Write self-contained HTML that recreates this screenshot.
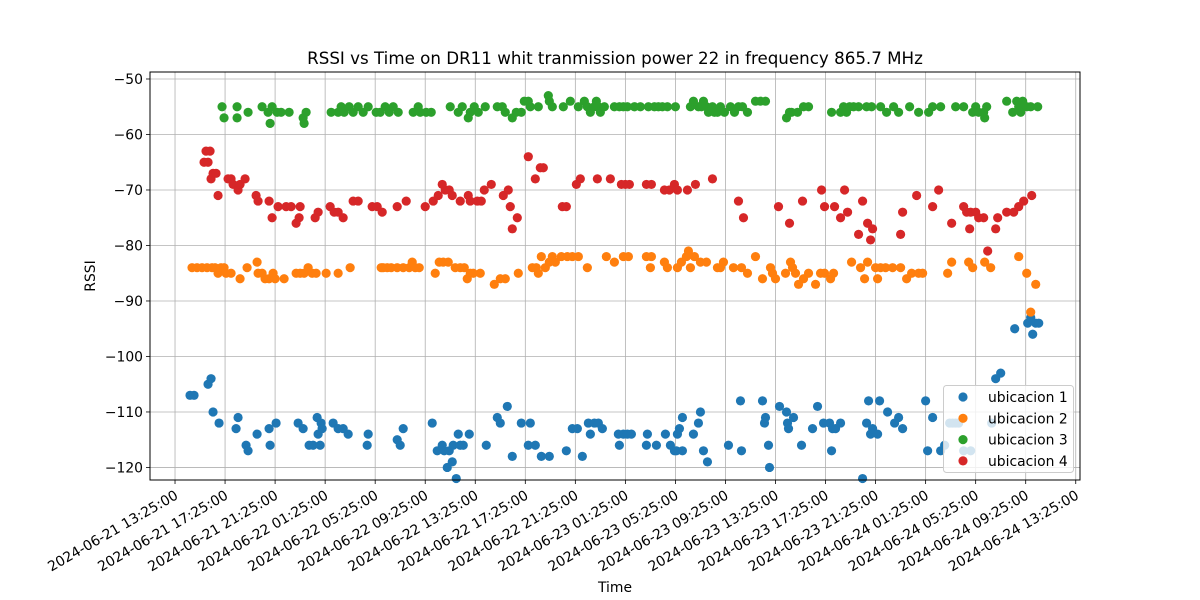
<!DOCTYPE html>
<html><head><meta charset="utf-8"><style>
body{margin:0;background:#fff;}
svg{display:block;font-family:"DejaVu Sans","Liberation Sans",sans-serif;}
</style></head><body>
<svg id="chart" width="1200" height="600" viewBox="0 0 1200 600"></svg>
<script>
const xTicks=[0,4,8,12,16,20,24,28,32,36,40,44,48,52,56,60,64,68,72];
const xTickLabels=["2024-06-21 13:25:00","2024-06-21 17:25:00","2024-06-21 21:25:00","2024-06-22 01:25:00","2024-06-22 05:25:00","2024-06-22 09:25:00","2024-06-22 13:25:00","2024-06-22 17:25:00","2024-06-22 21:25:00","2024-06-23 01:25:00","2024-06-23 05:25:00","2024-06-23 09:25:00","2024-06-23 13:25:00","2024-06-23 17:25:00","2024-06-23 21:25:00","2024-06-24 01:25:00","2024-06-24 05:25:00","2024-06-24 09:25:00","2024-06-24 13:25:00"];
const yTicks=[-120,-110,-100,-90,-80,-70,-60,-50];
const seriesNames=["ubicacion 1","ubicacion 2","ubicacion 3","ubicacion 4"];
const seriesColors=["#1f77b4","#ff7f0e","#2ca02c","#d62728"];
const s1=[[1.2,-107],[1.52,-107],[2.64,-105],[2.88,-104],[3.04,-110],[3.52,-112],[4.88,-113],[5.04,-111],[5.68,-116],[5.84,-117],[6.56,-114],[7.52,-113],[7.6,-116],[8.08,-112],[9.84,-112],[10.24,-113],[10.72,-116],[11.04,-116],[11.36,-111],[11.44,-114],[11.6,-116],[11.68,-112],[11.76,-113],[12.64,-112],[13.04,-113],[13.44,-113],[13.84,-114],[15.36,-116],[15.44,-114],[17.76,-115],[18.0,-116],[18.24,-113],[20.56,-112],[20.96,-117],[21.36,-116],[21.52,-117],[21.76,-120],[21.92,-117],[22.16,-119],[22.24,-116],[22.48,-122],[22.64,-114],[22.8,-116],[23.04,-116],[23.52,-114],[24.88,-116],[25.76,-111],[26.0,-112],[26.56,-109],[26.96,-118],[27.68,-112],[28.4,-112],[28.24,-116],[28.8,-116],[29.28,-118],[29.92,-118],[31.28,-117],[31.76,-113],[32.16,-113],[32.56,-118],[33.04,-112],[33.2,-114],[33.52,-112],[33.84,-112],[34.16,-113],[35.44,-114],[35.52,-116],[35.84,-114],[36.16,-114],[36.48,-114],[37.68,-116],[37.76,-114],[38.48,-116],[39.2,-114],[39.6,-116],[39.92,-117],[40.08,-117],[40.16,-114],[40.32,-113],[40.56,-111],[40.56,-117],[41.44,-114],[41.84,-112],[42.0,-110],[42.24,-117],[42.56,-119],[44.24,-116],[45.2,-108],[45.28,-117],[46.96,-108],[47.12,-112],[47.2,-111],[47.44,-116],[47.52,-120],[48.32,-109],[48.88,-110],[48.96,-112],[49.04,-113],[49.44,-111],[50.08,-116],[50.96,-113],[51.36,-109],[51.84,-112],[52.32,-112],[52.48,-117],[52.56,-113],[52.8,-113],[53.2,-112],[54.96,-122],[55.28,-112],[55.44,-108],[55.6,-114],[55.76,-113],[56.16,-114],[56.32,-108],[56.96,-110],[57.52,-112],[57.84,-111],[58.16,-113],[60.0,-108],[60.16,-117],[60.56,-111],[61.2,-117],[61.52,-116],[61.92,-112],[62.16,-112],[62.4,-112],[62.64,-112],[63.04,-117],[63.6,-117],[65.28,-112],[65.6,-104],[66.0,-103],[67.12,-95],[68.16,-94],[68.4,-93],[68.56,-96],[68.8,-94],[69.04,-94]];
const s2=[[1.36,-84],[1.76,-84],[2.16,-84],[2.56,-84],[2.96,-84],[3.2,-84],[3.44,-85],[3.68,-84],[3.92,-84],[4.08,-85],[4.48,-85],[5.2,-86],[5.76,-84],[6.56,-83],[6.64,-85],[6.96,-85],[7.2,-86],[7.52,-86],[7.84,-85],[8.0,-86],[8.72,-86],[9.68,-85],[10.0,-85],[10.32,-85],[10.64,-84],[10.96,-85],[11.28,-85],[12.08,-85],[13.04,-85],[14.0,-84],[16.48,-84],[16.64,-84],[16.96,-84],[17.28,-84],[17.76,-84],[18.24,-84],[18.72,-84],[18.96,-83],[19.2,-84],[19.52,-84],[20.8,-85],[21.12,-83],[21.44,-83],[21.84,-83],[22.4,-84],[22.8,-84],[23.12,-84],[23.36,-86],[23.6,-85],[23.84,-85],[24.4,-85],[25.52,-87],[26.0,-86],[26.4,-86],[27.44,-85],[28.56,-84],[28.88,-84],[29.04,-85],[29.28,-82],[29.6,-84],[29.92,-83],[30.16,-82],[30.4,-83],[30.88,-82],[31.36,-82],[31.76,-82],[32.24,-82],[32.96,-84],[34.48,-82],[35.12,-83],[35.84,-82],[36.24,-82],[37.68,-82],[38.0,-84],[38.08,-82],[39.12,-83],[39.36,-84],[40.16,-84],[40.48,-83],[40.88,-82],[41.04,-81],[41.2,-84],[41.52,-82],[42.0,-83],[42.48,-83],[43.36,-84],[43.6,-84],[43.84,-83],[44.64,-84],[45.28,-84],[45.76,-85],[46.4,-82],[46.96,-86],[47.6,-84],[47.76,-85],[48.0,-86],[48.8,-85],[49.2,-83],[49.36,-84],[49.6,-85],[49.84,-87],[50.24,-86],[50.64,-85],[51.2,-87],[51.6,-85],[51.92,-85],[52.4,-86],[52.64,-85],[54.08,-83],[54.8,-84],[55.12,-86],[55.36,-83],[56.0,-84],[56.16,-86],[56.4,-84],[56.8,-84],[57.36,-84],[58.0,-84],[58.48,-86],[58.88,-85],[59.44,-85],[59.76,-85],[61.76,-85],[62.08,-83],[63.44,-83],[63.76,-84],[64.72,-83],[65.2,-84],[67.44,-82],[68.08,-85],[68.4,-92],[68.8,-87]];
const s3=[[3.76,-55],[3.92,-57],[4.96,-55],[4.96,-57],[5.84,-56],[6.96,-55],[7.44,-56],[7.6,-58],[7.76,-55],[8.16,-56],[8.48,-56],[9.12,-56],[10.24,-57],[10.32,-58],[10.48,-56],[12.48,-56],[13.04,-56],[13.28,-55],[13.52,-56],[13.92,-55],[14.24,-56],[14.64,-55],[15.04,-56],[15.44,-55],[16.08,-56],[16.4,-56],[16.8,-55],[17.12,-56],[17.44,-55],[17.84,-56],[19.04,-56],[19.44,-55],[19.6,-56],[20.08,-56],[20.48,-56],[22.0,-55],[22.64,-56],[22.96,-55],[23.44,-57],[23.6,-56],[23.92,-55],[24.24,-56],[24.8,-55],[25.76,-55],[26.16,-55],[26.4,-56],[26.96,-57],[27.28,-56],[27.68,-56],[27.92,-54],[28.24,-54],[28.4,-55],[29.04,-55],[29.84,-53],[29.92,-54],[30.16,-55],[31.04,-55],[31.6,-54],[32.24,-55],[32.72,-54],[32.96,-55],[33.2,-56],[33.52,-55],[33.68,-54],[33.84,-55],[34.0,-56],[34.32,-55],[35.12,-55],[35.52,-55],[35.84,-55],[36.16,-55],[36.72,-55],[37.2,-55],[37.84,-55],[38.32,-55],[38.64,-55],[38.96,-55],[39.36,-55],[40.0,-55],[41.2,-55],[41.44,-54],[41.84,-55],[42.08,-55],[42.24,-54],[42.48,-55],[42.64,-56],[42.96,-55],[43.12,-56],[43.36,-56],[43.6,-55],[43.92,-56],[44.4,-55],[44.72,-56],[45.04,-55],[45.36,-55],[45.76,-56],[46.4,-54],[46.8,-54],[47.2,-54],[48.88,-57],[49.12,-56],[49.28,-56],[49.76,-56],[50.24,-55],[50.64,-55],[52.48,-56],[53.2,-56],[53.44,-55],[53.68,-56],[53.92,-55],[54.24,-55],[54.64,-55],[55.28,-55],[55.68,-55],[56.4,-55],[56.88,-56],[57.44,-55],[57.84,-56],[58.72,-55],[59.44,-56],[60.24,-56],[60.56,-55],[61.2,-55],[62.4,-55],[63.04,-55],[63.76,-56],[64.0,-55],[64.24,-56],[64.64,-56],[64.72,-57],[64.88,-55],[66.48,-54],[66.96,-56],[67.28,-54],[67.44,-55],[67.6,-56],[67.76,-54],[68.08,-55],[68.4,-55],[68.96,-55]];
const s4=[[2.32,-65],[2.48,-63],[2.64,-65],[2.8,-63],[2.88,-68],[3.04,-67],[3.28,-67],[3.44,-71],[4.24,-68],[4.48,-68],[4.64,-69],[5.04,-70],[5.2,-69],[5.6,-68],[6.48,-71],[6.64,-72],[7.52,-72],[7.76,-75],[8.24,-73],[8.88,-73],[9.28,-73],[9.68,-76],[9.92,-75],[10.0,-73],[11.2,-75],[11.44,-74],[12.4,-73],[12.72,-74],[13.04,-74],[13.44,-75],[14.24,-72],[14.64,-72],[15.76,-73],[16.16,-73],[16.56,-74],[17.76,-73],[18.48,-72],[20.0,-73],[20.64,-72],[21.04,-71],[21.36,-69],[21.6,-70],[21.92,-70],[22.16,-71],[22.8,-72],[23.44,-71],[23.6,-72],[24.16,-72],[24.48,-72],[24.72,-70],[25.28,-69],[26.24,-71],[26.64,-70],[26.8,-73],[26.96,-77],[27.36,-75],[28.24,-64],[28.8,-68],[29.2,-66],[29.44,-66],[30.96,-73],[31.28,-73],[32.08,-69],[32.4,-68],[33.76,-68],[34.8,-68],[35.68,-69],[36.0,-69],[36.32,-69],[37.68,-69],[38.08,-69],[39.12,-70],[39.52,-70],[39.92,-69],[40.16,-70],[40.96,-70],[41.6,-69],[42.96,-68],[45.04,-72],[45.44,-75],[48.24,-73],[49.12,-76],[50.16,-72],[51.68,-70],[51.92,-73],[52.72,-73],[53.2,-75],[53.52,-70],[53.76,-74],[54.64,-78],[54.96,-72],[55.36,-76],[55.6,-79],[55.76,-77],[58.0,-78],[58.16,-74],[59.28,-71],[60.56,-73],[61.04,-70],[62.08,-76],[63.04,-73],[63.28,-74],[63.52,-77],[63.6,-74],[64.0,-74],[64.24,-75],[64.64,-75],[64.96,-81],[65.6,-77],[65.76,-75],[66.48,-74],[67.04,-74],[67.44,-73],[67.84,-72],[68.48,-71]];
const allSeries=[s1,s2,s3,s4];

const NS="http://www.w3.org/2000/svg";
const svg=document.getElementById('chart');
const L=150,R=1080,T=72,B=480;
const xMin=-2.0,xMax=72.34,yMin=-122.26,yMax=-48.74;
const xs=v=>L+(v-xMin)/(xMax-xMin)*(R-L);
const ys=v=>B-(v-yMin)/(yMax-yMin)*(B-T);
function mk(tag,attrs,parent){const e=document.createElementNS(NS,tag);for(const k in attrs)e.setAttribute(k,attrs[k]);(parent||svg).appendChild(e);return e;}

const title=mk('text',{x:615,y:64,'text-anchor':'middle','font-size':16.7,fill:'#000'});
title.textContent="RSSI vs Time on DR11  whit tranmission power 22 in frequency 865.7 MHz";
title.setAttribute('xml:space','preserve');



const grid=mk('g',{});


xTicks.forEach((t,i)=>{
  const x=xs(t);
  mk('line',{x1:x,x2:x,y1:T,y2:B,stroke:'#b0b0b0','stroke-width':0.8},grid);
  const tk=mk('line',{x1:x,x2:x,y1:B,y2:B+4,stroke:'#000','stroke-width':0.8});
  
  
  const ax=x+4,ay=B+18;
  const lb=mk('text',{x:ax,y:ay,'text-anchor':'end','font-size':13.9,fill:'#000',transform:`rotate(-30 ${ax} ${ay})`});
  lb.textContent=xTickLabels[i];
  
  
});
yTicks.forEach(t=>{
  const y=ys(t);
  mk('line',{x1:L,x2:R,y1:y,y2:y,stroke:'#b0b0b0','stroke-width':0.8},grid);
  mk('line',{x1:L-4,x2:L,y1:y,y2:y,stroke:'#000','stroke-width':0.8});
  const lb=mk('text',{x:L-7,y:y+5,'text-anchor':'end','font-size':13.9,fill:'#000'});
  lb.textContent=String(t).replace('-','\u2212');
  
  
});

allSeries.forEach((s,si)=>{
  const g=mk('g',{fill:seriesColors[si]});
  
  
  s.forEach(p=>{
    const c=mk('circle',{cx:xs(p[0]),cy:ys(p[1]),r:4.6},g);
    
    
  });
});

const frame=mk('rect',{x:L,y:T,width:R-L,height:B-T,fill:'none',stroke:'#000','stroke-width':1});



const xt=mk('text',{x:615,y:592,'text-anchor':'middle','font-size':13.9,fill:'#000'});
xt.textContent="Time";


const yt=mk('text',{x:95,y:276,'text-anchor':'middle','font-size':13.9,fill:'#000',transform:'rotate(-90 95 276)'});
yt.textContent="RSSI";



const lg=mk('g',{});


mk('rect',{x:943.5,y:385.5,width:130,height:87,rx:3,fill:'#fff','fill-opacity':0.8,stroke:'#ccc'},lg);
seriesNames.forEach((n,i)=>{
  const y=397+i*21.3;
  mk('circle',{cx:963,cy:y,r:4.6,fill:seriesColors[i]},lg);
  const t=mk('text',{x:988,y:y+5,'font-size':13.9,fill:'#000'},lg);
  t.textContent=n;
  
  
});
</script>
</body></html>
